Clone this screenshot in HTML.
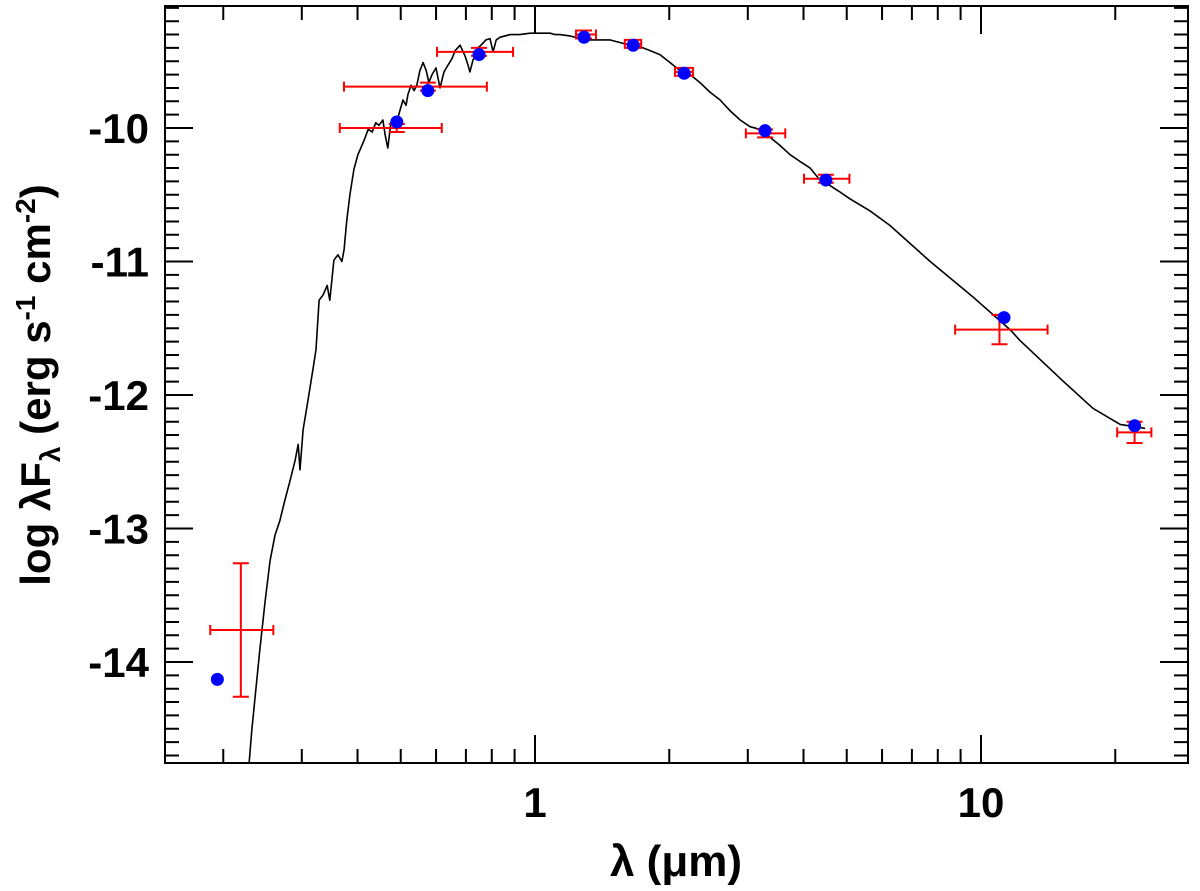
<!DOCTYPE html>
<html><head><meta charset="utf-8">
<style>
html,body{margin:0;padding:0;background:#fff;}
svg{display:block;font-family:"Liberation Sans",sans-serif;font-weight:bold;}
</style></head>
<body>
<svg id="chart" width="1200" height="891" viewBox="0 0 1200 891" xmlns="http://www.w3.org/2000/svg">
<g id="spec"></g>
<g id="errs"></g>
<g id="pts"></g>
<g id="axes"></g>
<text x="676" y="876" font-size="44" text-anchor="middle">λ (μm)</text>
<text transform="translate(50,385) rotate(-90)" font-size="42" text-anchor="middle">log λF<tspan font-size="28" dy="10">λ</tspan><tspan dy="-10"> (erg s</tspan><tspan font-size="28" dy="-15">-1</tspan><tspan dy="15"> cm</tspan><tspan font-size="28" dy="-15">-2</tspan><tspan dy="15">)</tspan></text>
</svg>
<script>
// Model spectrum (log10 wavelength in µm, log flux)
const specLogLam = [-0.641,-0.635,-0.626,-0.617,-0.605,-0.594,-0.583,-0.572,-0.561,-0.549,-0.538,-0.531,-0.527,-0.520,-0.509,-0.498,-0.491,-0.484,-0.475,-0.466,-0.460,-0.451,-0.442,-0.433,-0.428,-0.422,-0.415,-0.406,-0.397,-0.392,-0.383,-0.374,-0.365,-0.357,-0.350,-0.341,-0.336,-0.330,-0.323,-0.316,-0.309,-0.303,-0.296,-0.289,-0.285,-0.278,-0.271,-0.265,-0.258,-0.251,-0.244,-0.238,-0.231,-0.222,-0.213,-0.204,-0.197,-0.186,-0.179,-0.168,-0.157,-0.150,-0.146,-0.139,-0.132,-0.128,-0.121,-0.110,-0.101,-0.094,-0.087,-0.078,-0.056,-0.034,-0.011,0.011,0.034,0.045,0.056,0.078,0.101,0.123,0.146,0.168,0.191,0.213,0.235,0.258,0.280,0.303,0.325,0.348,0.370,0.392,0.415,0.437,0.460,0.482,0.504,0.527,0.549,0.572,0.594,0.617,0.639,0.661,0.684,0.706,0.751,0.796,0.886,0.980,1.065,1.087,1.182,1.251,1.312,1.368];
const specLogF = [-14.76,-14.51,-14.21,-13.91,-13.54,-13.24,-13.05,-12.94,-12.79,-12.64,-12.49,-12.37,-12.56,-12.26,-12.04,-11.81,-11.66,-11.29,-11.25,-11.18,-11.29,-10.99,-10.95,-11.00,-10.91,-10.69,-10.50,-10.31,-10.20,-10.16,-10.09,-10.01,-10.03,-9.96,-9.98,-9.94,-10.05,-10.15,-9.96,-9.93,-9.94,-9.87,-9.79,-9.83,-9.75,-9.68,-9.72,-9.68,-9.57,-9.51,-9.57,-9.66,-9.60,-9.55,-9.70,-9.58,-9.54,-9.48,-9.42,-9.38,-9.46,-9.53,-9.58,-9.49,-9.45,-9.40,-9.38,-9.34,-9.33,-9.43,-9.34,-9.32,-9.30,-9.30,-9.29,-9.29,-9.29,-9.30,-9.30,-9.31,-9.33,-9.34,-9.34,-9.34,-9.36,-9.38,-9.39,-9.42,-9.45,-9.51,-9.57,-9.60,-9.66,-9.73,-9.79,-9.87,-9.94,-9.99,-10.01,-10.07,-10.13,-10.20,-10.25,-10.30,-10.39,-10.43,-10.48,-10.53,-10.62,-10.73,-11.00,-11.26,-11.51,-11.59,-11.89,-12.10,-12.22,-12.25];
// Photometry (blue points)
const ptLam = [0.194,0.49,0.575,0.749,1.288,1.66,2.16,3.28,4.49,11.26,22.1];
const ptLogF = [-14.13,-9.955,-9.72,-9.45,-9.32,-9.38,-9.59,-10.02,-10.39,-11.42,-12.23];
// Error bars (red)
const ebLam = [0.219,0.49,0.575,0.749,1.288,1.66,2.16,3.28,4.49,11.0,22.1];
const ebLogF = [-13.76,-10.0,-9.69,-9.43,-9.30,-9.37,-9.58,-10.04,-10.38,-11.51,-12.28];
const ebLamLo = [0.187,0.365,0.373,0.603,1.236,1.59,2.06,2.97,4.01,8.75,20.2];
const ebLamHi = [0.259,0.618,0.78,0.893,1.37,1.73,2.26,3.64,5.07,14.1,24.1];
const ebFErr = [0.5,0.03,0.03,0.03,0.03,0.03,0.03,0.03,0.03,0.11,0.08];
const xMajor = [1,10];
const xMinor = [0.2,0.3,0.4,0.5,0.6,0.7,0.8,0.9,2,3,4,5,6,7,8,9,20];
const yMajor = [-10,-11,-12,-13,-14];

const L=165,R=1188,T=6,B=763;
const X0=535,DEC=446;
const sx = lam => X0 + Math.log10(lam)*DEC;
const sxl = ll => X0 + ll*DEC;
const sy = f => 128 + (-10 - f)*133.5;
const NS="http://www.w3.org/2000/svg";
function mk(tag, parent, attrs){const e=document.createElementNS(NS,tag);for(const k in attrs)e.setAttribute(k,attrs[k]);parent.appendChild(e);return e;}

const spec=document.getElementById('spec');
let d='';
specLogLam.forEach((ll,i)=>{d+=(i?'L':'M')+sxl(ll).toFixed(1)+','+sy(specLogF[i]).toFixed(1);});
const sp=mk('path',spec,{d:d,fill:'none',stroke:'#000','stroke-width':1.6,'stroke-linejoin':'round'});



const errs=document.getElementById('errs');
ebLam.forEach((lam,i)=>{
  const cx=sx(lam),cy=sy(ebLogF[i]),x1=sx(ebLamLo[i]),x2=sx(ebLamHi[i]);
  const y1=sy(ebLogF[i]+ebFErr[i]),y2=sy(ebLogF[i]-ebFErr[i]);
  const g=mk('g',errs,{stroke:'#f00','stroke-width':2,fill:'none'});
  
  
  mk('path',g,{d:`M${x1},${cy}H${x2}M${x1},${cy-5}V${cy+5}M${x2},${cy-5}V${cy+5}M${cx},${y1}V${y2}M${cx-8},${y1}H${cx+8}M${cx-8},${y2}H${cx+8}`});
});

const pts=document.getElementById('pts');
ptLam.forEach((lam,i)=>{
  const c=mk('circle',pts,{cx:sx(lam),cy:sy(ptLogF[i]),r:6.5,fill:'#00f'});
  
  
});

const ax=document.getElementById('axes');
mk('rect',ax,{x:L,y:T,width:R-L,height:B-T,fill:'none',stroke:'#000','stroke-width':2});
let td='';
xMajor.forEach(v=>{const x=sx(v);td+=`M${x},${B}v-28M${x},${T}v28`;});
xMinor.forEach(v=>{const x=sx(v);td+=`M${x},${B}v-14M${x},${T}v14`;});
for(let k=0;k<=57;k++){const f=-9.1-k*0.1;const y=sy(f);if(y<T||y>B)continue;
  const maj=Math.abs(f-Math.round(f))<0.01;const len=maj?28:14;td+=`M${L},${y}h${len}M${R},${y}h${-len}`;}
mk('path',ax,{d:td,stroke:'#000','stroke-width':2,fill:'none'});
xMajor.forEach(v=>{
  const t=mk('text',ax,{x:sx(v),y:B+54,'font-size':42,'text-anchor':'middle'});
  t.textContent=String(v);
  
  
});
yMajor.forEach(v=>{
  const t=mk('text',ax,{x:L-16,y:sy(v)+15,'font-size':42,'text-anchor':'end'});
  t.textContent=String(v);
  
  
});
</script>
</body></html>
